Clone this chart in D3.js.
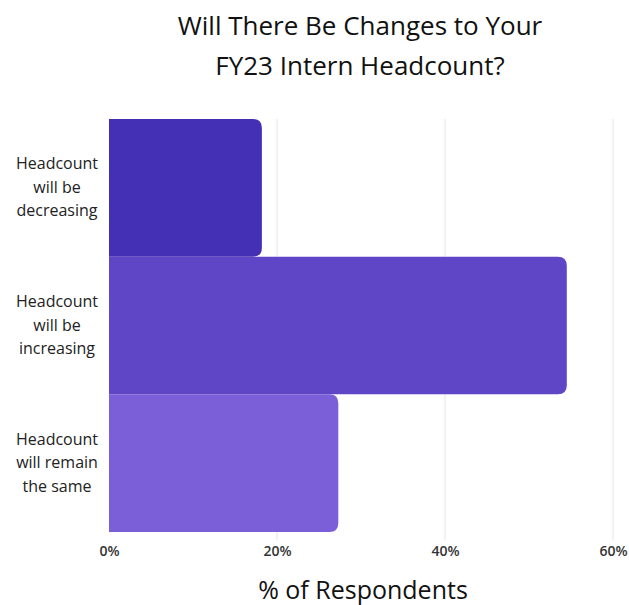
<!DOCTYPE html>
<html><head><meta charset="utf-8">
<script src="https://cdn.jsdelivr.net/npm/d3@7"></script>
<style>body{margin:0;background:#fff;}svg{display:block;font-family:"Open Sans", "Noto Sans", sans-serif;}</style>
</head><body><svg id="c" width="629" height="605"></svg>
<script>
const categories = [["Headcount","will be","decreasing"],["Headcount","will be","increasing"],["Headcount","will remain","the same"]];
const values = [18.2, 54.5, 27.3];
const colors = ["#4430b4","#5f46c6","#7b5fd8"];
const ticks = [0,20,40,60];
const titleLines = ["Will There Be Changes to Your","FY23 Intern Headcount?"];
const xTitle = "% of Respondents";

const svg = d3.select("#c");
const m = {left:109, right:16, top:119, bottom:73};
const W = 629, H = 605;
const x = d3.scaleLinear().domain([0,60]).range([m.left, W-m.right]);
const y = d3.scaleBand().domain(d3.range(values.length)).range([m.top, H-m.bottom]).padding(0);

// gridlines
svg.append("g").selectAll("line").data(ticks.slice(1)).join("line")
  .attr("x1",d=>x(d)).attr("x2",d=>x(d)).attr("y1",m.top).attr("y2",H-m.bottom+8)
  .attr("stroke","#ebebeb").attr("stroke-width",1.2);

// bars with rounded right corners
const r = 9;
function barPath(x0,x1,y0,y1){
  return `M${x0},${y0}H${x1-r}Q${x1},${y0} ${x1},${y0+r}V${y1-r}Q${x1},${y1} ${x1-r},${y1}H${x0}Z`;
}
svg.append("g").selectAll("path").data(values).join("path")
  .attr("d",(d,i)=>barPath(x(0), x(d), y(i), y(i)+y.bandwidth()))
  .attr("fill",(d,i)=>colors[i]);

// x axis labels
const xa = svg.append("g").attr("transform",`translate(0,${H-m.bottom+2})`)
  .call(d3.axisBottom(x).tickValues(ticks).tickFormat(d=>d+"%").tickSize(0).tickPadding(12));
xa.select(".domain").remove();
xa.selectAll("text").attr("font-size",14).attr("font-weight",600).attr("fill","#333").attr("font-family","'Open Sans', sans-serif");

// y labels
const yl = svg.append("g");
categories.forEach((lines,i)=>{
  const cy = y(i)+y.bandwidth()/2;
  const t = yl.append("text").attr("x",57).attr("text-anchor","middle").attr("font-size",16).attr("fill","#222");
  lines.forEach((l,j)=>{
    t.append("tspan").attr("x",57).attr("y",cy + (j-1)*23.5 + 5).text(l);
  });
});

// title
titleLines.forEach((l,i)=>{
  svg.append("text").attr("x",360).attr("y",35+i*40).attr("text-anchor","middle")
    .attr("font-size",26).attr("fill","#111").text(l);
});
svg.append("text").attr("x",363).attr("y",599).attr("text-anchor","middle")
  .attr("font-size",25).attr("fill","#111").text(xTitle);
</script></body></html>
